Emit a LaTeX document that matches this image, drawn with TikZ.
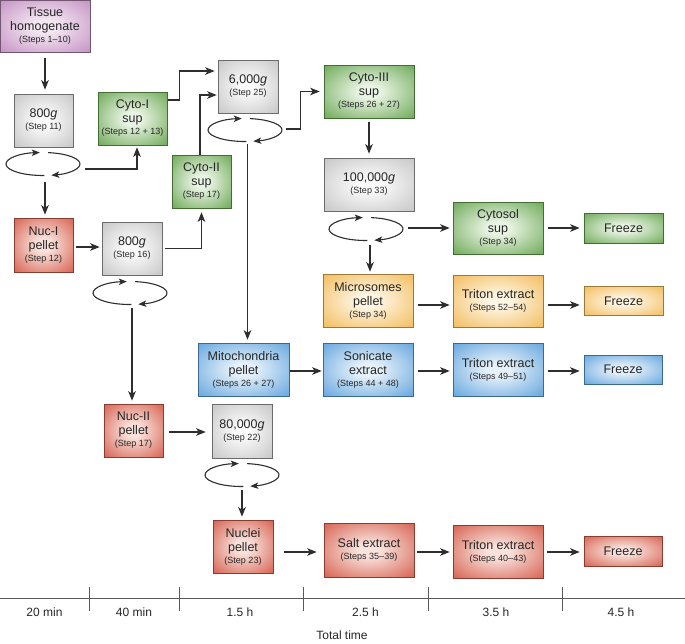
\documentclass[tikz,border=0pt]{standalone}
\usepackage{fontspec}
\setmainfont{Liberation Sans}
\usetikzlibrary{arrows.meta,calc,shapes.geometric}
\definecolor{lc}{HTML}{2E2E2E}
\definecolor{txt}{HTML}{262626}
\definecolor{grayout}{HTML}{C4C4C4}
\definecolor{grayin}{HTML}{FAFAFA}
\definecolor{greenout}{HTML}{68A652}
\definecolor{greenin}{HTML}{EAF4E4}
\definecolor{redout}{HTML}{D55C4B}
\definecolor{redin}{HTML}{F9E2DC}
\definecolor{yelout}{HTML}{F2BA58}
\definecolor{yelin}{HTML}{FEF5E2}
\definecolor{blueout}{HTML}{60A3DD}
\definecolor{bluein}{HTML}{E6F1FA}
\definecolor{purout}{HTML}{C28EC1}
\definecolor{purin}{HTML}{F4E8F3}
\colorlet{shin}{white}
\colorlet{shout}{gray}
\pgfdeclareradialshading[shin,shout]{softrad}{\pgfpoint{0bp}{0bp}}{color(0bp)=(shin); color(6bp)=(shin); color(37bp)=(shout); color(50bp)=(shout)}
\newcommand{\mainf}{\fontsize{12.5}{14}\selectfont}
\newcommand{\stp}{\fontsize{9}{11}\selectfont}
\newcommand{\spinarcs}[1]{%
  \draw[spinline] (#1.center) ++(272:37pt and 11.5pt) arc[start angle=272, end angle=95, x radius=37pt, y radius=11.5pt];
  \draw[spinline] (#1.center) ++(82:37pt and 11.5pt) arc[start angle=82, end angle=-77, x radius=37pt, y radius=11.5pt];
}
\tikzset{
  box/.style={line width=0.6pt, inner sep=0pt, align=center, font=\mainf, text=txt},
  sz/.style 2 args={minimum width=#1pt, minimum height=#2pt},
  shd/.style 2 args={/utils/exec={\colorlet{shin}{#1}\colorlet{shout}{#2}}, shade, shading=softrad},
  gbox/.style={box, draw=grayout!55!black, shd={grayin}{grayout}},
  grbox/.style={box, draw=greenout!65!black, shd={greenin}{greenout}},
  rbox/.style={box, draw=redout!65!black, shd={redin}{redout}},
  ybox/.style={box, draw=yelout!65!black, shd={yelin}{yelout}},
  bbox/.style={box, draw=blueout!65!black, shd={bluein}{blueout}},
  pbox/.style={box, draw=purout!60!black, shd={purin}{purout}},
  spin/.style={ellipse, minimum width=74pt, minimum height=23pt, inner sep=0pt},
  spinline/.style={draw=lc, line width=1.1pt, -{Stealth[length=8pt,width=6.5pt,inset=2pt]}},
  arr/.style={draw=lc, line width=1.3pt, -{Stealth[length=9.5pt,width=7.5pt,inset=2.5pt]}},
  axisline/.style={draw=black!65, line width=0.9pt},
  tl/.style={font=\fontsize{12}{14}\selectfont, text=txt}
}
\begin{document}
\begin{tikzpicture}[x=1pt,y=-1pt]
\useasboundingbox (0,0) rectangle (685,643);

% boxes
\node[pbox, sz={90}{52}] (tissue) at (45,26) {Tissue\\homogenate\\[-2pt]{\stp (Steps 1–10)}};
\node[gbox, sz={59}{53}] (g800a) at (43.5,120.5) {800\textit{g}\\[-2pt]{\stp (Step 11)}};
\node[grbox, sz={69}{53}] (cytoI) at (132.5,118.5) {Cyto-I\\sup\\[-2pt]{\stp (Steps 12 + 13)}};
\node[rbox, sz={59}{54}] (nucI) at (43.5,245) {Nuc-I\\pellet\\[-2pt]{\stp (Step 12)}};
\node[gbox, sz={60}{53}] (g800b) at (132,248.5) {800\textit{g}\\[-2pt]{\stp (Step 16)}};
\node[grbox, sz={59}{53}] (cytoII) at (201.5,181.5) {Cyto-II\\sup\\[-2pt]{\stp (Step 17)}};
\node[gbox, sz={60}{53}] (g6000) at (248,86.5) {6,000\textit{g}\\[-2pt]{\stp (Step 25)}};
\node[grbox, sz={90}{53}] (cytoIII) at (369,91.5) {Cyto-III\\sup\\[-2pt]{\stp (Steps 26 + 27)}};
\node[gbox, sz={90}{53}] (g100k) at (369,184.5) {100,000\textit{g}\\[-2pt]{\stp (Step 33)}};
\node[grbox, sz={90}{52}] (cytosol) at (498,228) {Cytosol\\sup\\[-2pt]{\stp (Step 34)}};
\node[grbox, sz={79}{30}] (frG) at (623.5,228) {Freeze};
\node[ybox, sz={90}{53}] (micro) at (368,300.5) {Microsomes\\pellet\\[-2pt]{\stp (Step 34)}};
\node[ybox, sz={90}{52}] (tritY) at (498,301) {Triton extract\\[-2pt]{\stp (Steps 52–54)}};
\node[ybox, sz={79}{29}] (frY) at (623.5,301) {Freeze};
\node[bbox, sz={91}{53}] (mito) at (243.5,369.5) {Mitochondria\\pellet\\[-2pt]{\stp (Steps 26 + 27)}};
\node[bbox, sz={90}{53}] (sonic) at (368,369.5) {Sonicate\\extract\\[-2pt]{\stp (Steps 44 + 48)}};
\node[bbox, sz={90}{53}] (tritB) at (498,369.5) {Triton extract\\[-2pt]{\stp (Steps 49–51)}};
\node[bbox, sz={78}{29}] (frB) at (623,369.5) {Freeze};
\node[rbox, sz={59}{53}] (nucII) at (133.5,430.5) {Nuc-II\\pellet\\[-2pt]{\stp (Step 17)}};
\node[gbox, sz={60}{54}] (g80k) at (242,431) {80,000\textit{g}\\[-2pt]{\stp (Step 22)}};
\node[rbox, sz={60}{53}] (nuclei) at (243,546.5) {Nuclei\\pellet\\[-2pt]{\stp (Step 23)}};
\node[rbox, sz={90}{54}] (salt) at (369,550) {Salt extract\\[-2pt]{\stp (Steps 35–39)}};
\node[rbox, sz={90}{53}] (tritR) at (498,551.5) {Triton extract\\[-2pt]{\stp (Steps 40–43)}};
\node[rbox, sz={78}{30}] (frR) at (623,551) {Freeze};

% centrifuges
\node[spin] (c1) at (43,164) {};
\node[spin] (c2) at (245,130) {};
\node[spin] (c3) at (366,229) {};
\node[spin] (c4) at (130,293) {};
\node[spin] (c5) at (242,475) {};
\spinarcs{c1}
\spinarcs{c2}
\spinarcs{c3}
\spinarcs{c4}
\spinarcs{c5}

% connectors
\draw[arr, shorten <=6pt, shorten >=4pt] (tissue.south) -- (tissue.south |- g800a.north);
\coordinate (c1s) at ($(c1.south)+(2,0)$);
\draw[arr, shorten <=6.5pt, shorten >=3pt] (c1s) -- (c1s |- nucI.north);
\coordinate (c1e) at ($(c1.east)+(5,5)$);
\coordinate (cIs) at ($(cytoI.south)+(4.5,0)$);
\draw[arr, shorten >=2pt] (c1e) -| (cIs);
\coordinate (nIe) at ($(nucI.east)+(0,2)$);
\draw[arr, shorten <=3pt, shorten >=2pt] (nIe) -- (nIe -| g800b.west);
\draw[arr, shorten <=3pt, shorten >=4pt] (g800b.east) -| (cytoII.south);
\coordinate (c4s) at ($(c4.south)+(2,0)$);
\draw[arr, shorten <=3.5pt, shorten >=3pt] (c4s) -- (c4s |- nucII.north);
\coordinate (cIIn) at ($(cytoII.north)+(-1.5,0)$);
\coordinate (g6wl) at ($(g6000.west)+(0,8.5)$);
\draw[arr, shorten >=1pt] (cIIn) |- (g6wl);
\coordinate (cIe) at ($(cytoI.east)+(1,-18.5)$);
\coordinate (g6wh) at ($(g6000.west)+(0,-15.5)$);
\draw[arr, shorten >=3pt] (cIe) -- ++(11,0) |- (g6wh);
\coordinate (c2e) at ($(c2.east)+(4,-1)$);
\draw[arr, shorten >=4pt] (c2e) -- ++(14,0) |- (cytoIII.west);
\coordinate (c2s) at ($(c2.south)+(2.5,0)$);
\draw[arr, shorten <=2.5pt, shorten >=3pt] (c2s) -- (c2s |- mito.north);
\draw[arr, shorten <=4pt, shorten >=4pt] (cytoIII.south) -- (g100k.north);
\coordinate (c3e) at ($(c3.east)+(0,-1)$);
\draw[arr, shorten <=5pt, shorten >=3pt] (c3e) -- (c3e -| cytosol.west);
\coordinate (c3s) at ($(c3.south)+(4,0)$);
\draw[arr, shorten <=4pt, shorten >=2pt] (c3s) -- (c3s |- micro.north);
\draw[arr, shorten <=5pt, shorten >=4pt] (cytosol.east) -- (frG.west);
\coordinate (mE) at ($(micro.east)+(0,4.5)$);
\draw[arr, shorten <=5pt, shorten >=3pt] (mE) -- (mE -| tritY.west);
\coordinate (tYE) at ($(tritY.east)+(0,4)$);
\draw[arr, shorten <=5pt, shorten >=4pt] (tYE) -- (tYE -| frY.west);
\coordinate (miE) at ($(mito.east)+(0,1.5)$);
\draw[arr, shorten <=1pt, shorten >=1pt] (miE) -- (miE -| sonic.west);
\coordinate (soE) at ($(sonic.east)+(0,1.5)$);
\draw[arr, shorten <=5pt, shorten >=3pt] (soE) -- (soE -| tritB.west);
\coordinate (tBE) at ($(tritB.east)+(0,1.5)$);
\draw[arr, shorten <=5pt, shorten >=4pt] (tBE) -- (tBE -| frB.west);
\coordinate (nIIe) at ($(nucII.east)+(0,1.5)$);
\draw[arr, shorten <=6pt, shorten >=6pt] (nIIe) -- (nIIe -| g80k.west);
\draw[arr, shorten <=3.5pt, shorten >=3pt] (c5.south) -- (c5.south |- nuclei.north);
\coordinate (nuE) at ($(nuclei.east)+(0,5.5)$);
\draw[arr, shorten <=11pt, shorten >=7pt] (nuE) -- (nuE -| salt.west);
\coordinate (saE) at ($(salt.east)+(0,2)$);
\draw[arr, shorten <=3pt, shorten >=3pt] (saE) -- (saE -| tritR.west);
\coordinate (tRE) at ($(tritR.east)+(0,0.5)$);
\draw[arr, shorten <=4pt, shorten >=4pt] (tRE) -- (tRE -| frR.west);

% time axis
\draw[axisline] (0,598) -- (685,598);
\foreach \x in {89,179,303,428,562} \draw[axisline] (\x,587) -- (\x,611);
\node[tl] (t1) at (44.5,612) {20 min};
\node[tl] (t2) at (134,612) {40 min};
\node[tl] (t3) at (240,612) {1.5 h};
\node[tl] (t4) at (365.5,612) {2.5 h};
\node[tl] (t5) at (496,612) {3.5 h};
\node[tl] (t6) at (621,612) {4.5 h};
\node[tl] (tt) at (342,635) {Total time};
\end{tikzpicture}
\end{document}
